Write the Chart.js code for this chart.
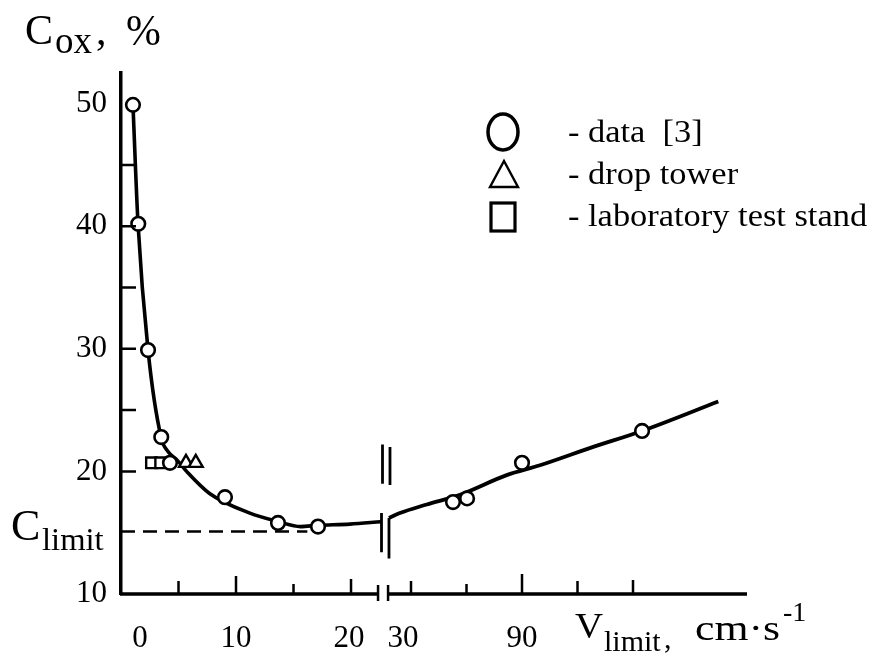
<!DOCTYPE html>
<html>
<head>
<meta charset="utf-8">
<script src="https://cdn.jsdelivr.net/npm/chart.js@4.4.1/dist/chart.umd.min.js"></script>
<style>
  html, body { margin: 0; padding: 0; background: #fff; }
  #wrap { width: 874px; height: 669px; position: relative; }
</style>
</head>
<body>
<div id="wrap"><canvas id="c" width="874" height="669"></canvas></div>
<script>
// ---------- data ----------
// left part of the broken x axis (V, cm/s, 0..~23)
const curveLeftV = [1.04, 1.48, 2.35, 3.48, 4.1, 4.9, 5.8, 7.7, 11.2, 13.7, 15.6, 17.1, 19.9, 22.6];
const curveLeftC = [49.9, 40.2, 29.9, 22.8, 21.6, 20.9, 19.9, 18.2, 16.6, 15.9, 15.5, 15.6, 15.7, 15.9];
// right part of the broken x axis (V, cm/s, 30..~210)
const curveRightV = [18.1, 24, 38.5, 56.5, 81.7, 99.7, 128.5, 154.9, 196.1];
const curveRightC = [16.2, 16.6, 17.3, 18.1, 19.7, 20.5, 22.0, 23.3, 25.7];

const circlesLeftV = [1.04, 1.5, 2.35, 3.5, 4.26, 9.04, 13.65, 17.13];
const circlesLeftC = [49.9, 40.2, 29.9, 22.8, 20.7, 17.9, 15.8, 15.5];
const circlesRightV = [52.7, 60.3, 90.0, 154.9];
const circlesRightC = [17.5, 17.8, 20.7, 23.3];
const dropTowerV = [5.65, 6.5];
const dropTowerC = [20.7, 20.7];
const labStandV = [2.65, 3.45];
const labStandC = [20.7, 20.7];

const cLimit = 15.1;
const cLimitEndV = 16.2;

// axis ticks / labels
const yTickLabels = [10, 20, 30, 40, 50];
const yMinorTicks = [20, 25, 30, 35, 40, 45];
const xLeftLabels = [0, 10, 20];
const xLeftTicks = [5, 10, 15, 20];
const xRightLabels = [30, 90];
const xRightTicks = [30, 60, 90, 120, 150];
const legendLabels = ['- data  [3]', '- drop tower', '- laboratory test stand'];

// ---------- helpers ----------
const pts = (xs, ys) => xs.map((x, i) => ({ x: x, y: ys[i] }));
const SERIF = '"Liberation Serif", "DejaVu Serif", serif';

function drawTriangle(ctx, cx, cy, w, h) {
  ctx.beginPath();
  ctx.moveTo(cx, cy - h / 2);
  ctx.lineTo(cx + w / 2, cy + h / 2);
  ctx.lineTo(cx - w / 2, cy + h / 2);
  ctx.closePath();
  ctx.stroke();
}
// text with horizontal stretch (the scanned typeface is wider than Times)
function wideText(ctx, text, x, y, size, sx) {
  ctx.save();
  ctx.font = size + 'px ' + SERIF;
  ctx.translate(x, y);
  ctx.scale(sx, 1);
  ctx.fillText(text, 0, 0);
  ctx.restore();
}

const decor = {
  id: 'decor',
  afterDraw(chart) {
    const ctx = chart.ctx;
    const xs = chart.scales.x, x2 = chart.scales.x2, ys = chart.scales.y;
    const ca = chart.chartArea;
    const yb = ys.getPixelForValue(10);
    ctx.save();
    ctx.strokeStyle = '#000';
    ctx.fillStyle = '#000';
    ctx.lineCap = 'butt';

    // x axis line with break
    const brL = xs.getPixelForValue(22.35);
    const brR = x2.getPixelForValue(17.6);
    ctx.lineWidth = 3.5;
    ctx.beginPath();
    ctx.moveTo(ca.left - 1, yb); ctx.lineTo(brL, yb);
    ctx.moveTo(brR, yb); ctx.lineTo(ca.right, yb);
    ctx.stroke();
    ctx.lineWidth = 2.5;
    ctx.beginPath();
    ctx.moveTo(brL, yb - 9); ctx.lineTo(brL, yb + 7);
    ctx.moveTo(brR, yb - 9); ctx.lineTo(brR, yb + 7);
    ctx.stroke();

    // inward x ticks
    const tl = { 5: 13, 10: 18, 15: 10, 20: 15, 30: 13, 60: 10, 90: 20, 120: 13, 150: 14 };
    ctx.lineWidth = 2.5;
    ctx.beginPath();
    xLeftTicks.forEach(v => { const p = xs.getPixelForValue(v); ctx.moveTo(p, yb); ctx.lineTo(p, yb - tl[v]); });
    xRightTicks.forEach(v => { const p = x2.getPixelForValue(v); ctx.moveTo(p, yb); ctx.lineTo(p, yb - tl[v]); });
    ctx.stroke();

    // inward y ticks
    ctx.beginPath();
    yMinorTicks.forEach(v => { const p = ys.getPixelForValue(v); ctx.moveTo(ca.left, p); ctx.lineTo(ca.left + 15, p); });
    ctx.stroke();

    // x tick labels
    ctx.font = '31px ' + SERIF;
    ctx.textAlign = 'center';
    ctx.textBaseline = 'middle';
    const nudge = { 0: 19, 10: 0, 20: -2 };
    xLeftLabels.forEach(v => ctx.fillText(String(v), xs.getPixelForValue(v) + nudge[v], yb + 45));
    const nudge2 = { 30: -8, 90: 0 };
    xRightLabels.forEach(v => ctx.fillText(String(v), x2.getPixelForValue(v) + nudge2[v], yb + 45));

    // break marks on the curve
    ctx.lineWidth = 2.8;
    const bx1 = xs.getPixelForValue(22.65), bx2 = x2.getPixelForValue(18.1);
    ctx.beginPath();
    ctx.moveTo(bx1 + 1, ys.getPixelForValue(22.2)); ctx.lineTo(bx1 + 1, ys.getPixelForValue(19.0));
    ctx.moveTo(bx2 + 1, ys.getPixelForValue(22.0)); ctx.lineTo(bx2 + 1, ys.getPixelForValue(18.9));
    ctx.moveTo(bx1, ys.getPixelForValue(16.6)); ctx.lineTo(bx1, ys.getPixelForValue(13.4));
    ctx.moveTo(bx2, ys.getPixelForValue(16.2)); ctx.lineTo(bx2, ys.getPixelForValue(12.9));
    ctx.stroke();

    // C_limit label
    const yl = ys.getPixelForValue(cLimit);
    ctx.textAlign = 'left';
    ctx.textBaseline = 'alphabetic';
    wideText(ctx, 'C', 11, yl + 9, 44, 1.0);
    wideText(ctx, 'limit', 42, yl + 19, 32, 1.02);

    // y axis title
    wideText(ctx, 'C', 25, 44, 42, 1.0);
    wideText(ctx, 'ox', 55, 53, 37, 1.0);
    wideText(ctx, ',', 96, 44, 42, 1.0);
    wideText(ctx, '%', 126, 45, 44, 0.95);

    // x axis title
    wideText(ctx, 'V', 575, 638, 36, 1.08);
    wideText(ctx, 'limit', 604, 651, 30, 1.0);
    wideText(ctx, ',', 664, 648, 30, 1.0);
    wideText(ctx, 'cm\u00B7s', 695, 640, 35, 1.25);
    wideText(ctx, '-1', 783, 621, 28, 1.0);

    // legend
    ctx.lineWidth = 3.5;
    ctx.beginPath();
    ctx.ellipse(503, 132, 15, 18, 0, 0, Math.PI * 2);
    ctx.stroke();
    ctx.lineWidth = 2.4;
    drawTriangle(ctx, 504, 174, 28, 26);
    ctx.lineWidth = 3.2;
    ctx.strokeRect(491, 203, 24, 28);
    const ly = [142, 184, 226];
    legendLabels.forEach((t, i) => wideText(ctx, t, 568, ly[i], 31, 1.11));

    ctx.restore();
  }
};

const circleStyle = {
  pointStyle: 'circle', pointRadius: 6.8, pointBorderWidth: 2.6,
  pointBackgroundColor: '#fff', pointBorderColor: '#000', showLine: false
};

new Chart(document.getElementById('c'), {
  type: 'scatter',
  data: {
    datasets: [
      Object.assign({ label: 'data [3]', data: pts(circlesLeftV, circlesLeftC), xAxisID: 'x' }, circleStyle),
      Object.assign({ label: 'data [3] (right)', data: pts(circlesRightV, circlesRightC), xAxisID: 'x2' }, circleStyle),
      { label: 'drop tower', data: pts(dropTowerV, dropTowerC), xAxisID: 'x',
        pointStyle: 'triangle', pointRadius: 8, pointBorderWidth: 2.4,
        pointBackgroundColor: '#fff', pointBorderColor: '#000', showLine: false },
      { label: 'laboratory test stand', data: pts(labStandV, labStandC), xAxisID: 'x',
        pointStyle: 'rect', pointRadius: 7.5, pointBorderWidth: 2.4,
        pointBackgroundColor: '#fff', pointBorderColor: '#000', showLine: false },
      { label: 'curve left', data: pts(curveLeftV, curveLeftC), xAxisID: 'x',
        showLine: true, borderColor: '#000', borderWidth: 3.6, pointRadius: 0,
        cubicInterpolationMode: 'monotone' },
      { label: 'curve right', data: pts(curveRightV, curveRightC), xAxisID: 'x2',
        showLine: true, borderColor: '#000', borderWidth: 3.8, pointRadius: 0,
        cubicInterpolationMode: 'monotone' },
      { label: 'C limit', data: [{ x: 0, y: cLimit }, { x: cLimitEndV, y: cLimit }], xAxisID: 'x',
        showLine: true, borderColor: '#000', borderWidth: 2.5, borderDash: [14, 8], pointRadius: 0 }
    ]
  },
  options: {
    responsive: false,
    animation: false,
    devicePixelRatio: 1,
    layout: { padding: { top: 73, right: 127, bottom: 75, left: 0 } },
    plugins: { legend: { display: false }, tooltip: { enabled: false } },
    scales: {
      x: { type: 'linear', min: 0, max: 54.43, display: false },
      x2: { type: 'linear', min: -126.76, max: 211.62, display: false },
      y: {
        type: 'linear', min: 10, max: 52.5,
        afterFit: s => { s.width = 121; },
        afterBuildTicks: s => { s.ticks = yTickLabels.map(v => ({ value: v })); },
        grid: { display: true, drawOnChartArea: false, drawTicks: false },
        border: { display: true, color: '#000', width: 3.5 },
        ticks: { color: '#000', padding: 14, font: { family: SERIF, size: 31 } }
      }
    }
  },
  plugins: [decor]
});
</script>
</body>
</html>
